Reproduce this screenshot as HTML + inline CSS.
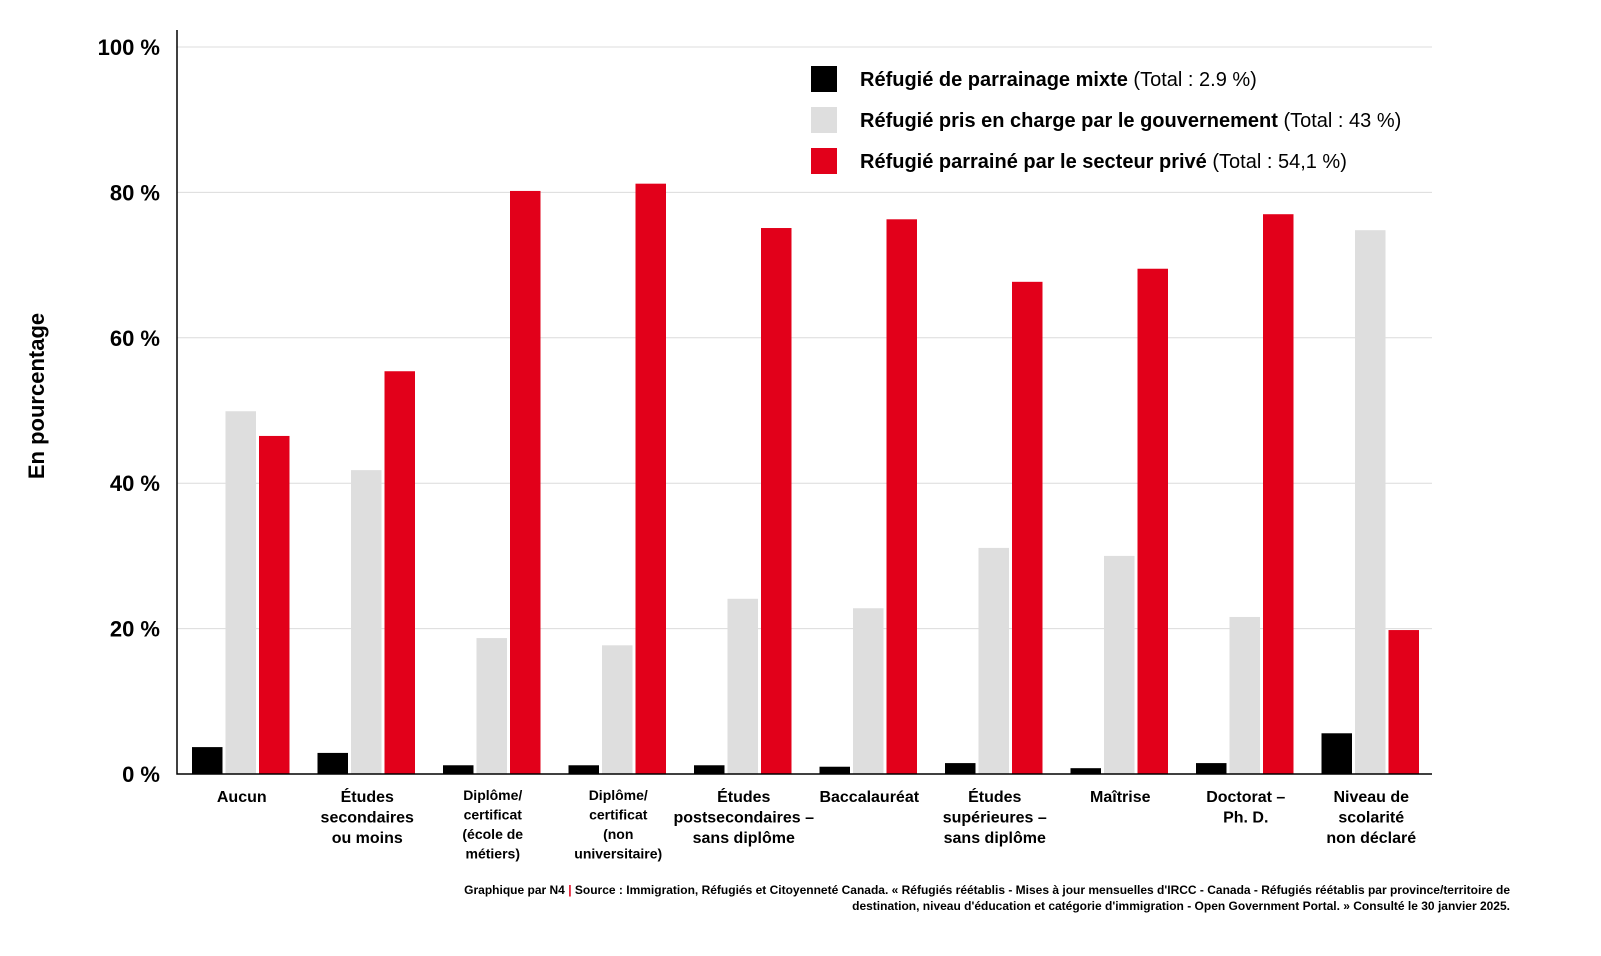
<!DOCTYPE html>
<html><head><meta charset="utf-8"><style>
body{margin:0;background:#fff;font-family:"Liberation Sans",sans-serif}
svg text{font-family:"Liberation Sans",sans-serif}
</style></head><body>
<svg id="c" width="1601" height="951" viewBox="0 0 1601 951" xmlns="http://www.w3.org/2000/svg"></svg>
<script>
const categories=[["Aucun"],["Études","secondaires","ou moins"],["Diplôme/","certificat","(école de","métiers)"],["Diplôme/","certificat","(non","universitaire)"],["Études","postsecondaires –","sans diplôme"],["Baccalauréat"],["Études","supérieures –","sans diplôme"],["Maîtrise"],["Doctorat –","Ph. D."],["Niveau de","scolarité","non déclaré"]];
const mixte=[3.7,2.9,1.2,1.2,1.2,1.0,1.5,0.8,1.5,5.6];
const gouv=[49.9,41.8,18.7,17.7,24.1,22.8,31.1,30.0,21.6,74.8];
const prive=[46.5,55.4,80.2,81.2,75.1,76.3,67.7,69.5,77.0,19.8];
const yTicks=[0,20,40,60,80,100];
const yTickLabels=["0 %","20 %","40 %","60 %","80 %","100 %"];
const legendLabels=[["Réfugié de parrainage mixte"," (Total : 2.9 %)"],["Réfugié pris en charge par le gouvernement"," (Total : 43 %)"],["Réfugié parrainé par le secteur privé"," (Total : 54,1 %)"]];

const NS="http://www.w3.org/2000/svg";
const svg=document.getElementById('c');
const X0=177,X1=1432,Y0=774,Y100=47;
const y=v=>Y0-(Y0-Y100)*v/100;
const step=(X1-X0)/categories.length;
const x=i=>X0+i*step;
function el(t,a,p){const e=document.createElementNS(NS,t);for(const k in a)e.setAttribute(k,a[k]);(p||svg).appendChild(e);return e;}
const colors=["#000000","#dedede","#e2001a"];
const series=[mixte,gouv,prive];
const sNames=["mixte","gouv","prive"];
yTicks.forEach((t,i)=>{
  if(t>0){const g=el('line',{x1:X0,x2:X1,y1:y(t),y2:y(t),stroke:'#dcdcdc','stroke-width':1});
  
  }
  const tx=el('text',{x:160,y:y(t)+8,'text-anchor':'end','font-size':22,'font-weight':'bold',fill:'#000'});
  tx.textContent=yTickLabels[i];
  
  
});
categories.forEach((c,i)=>{
  series.forEach((s,j)=>{
    const bx=x(i)+15+j*33.5;
    const r=el('rect',{x:bx,y:y(s[i]),width:30.5,height:Y0-y(s[i]),fill:colors[j]});
    
    
  });
  const cx=x(i)+step/2+2;
  const small=c.length>=4;
  const t=el('text',{x:cx,y:small?800:802,'text-anchor':'middle','font-size':small?14:16,'font-weight':'bold',fill:'#000'});
  
  
  c.forEach((l,k)=>{const ts=el('tspan',{x:cx,dy:k?(small?19.5:20.5):0},t);ts.textContent=l;});
});
const ax=el('path',{d:`M${X0} 30 V${Y0} H${X1}`,fill:'none',stroke:'#000','stroke-width':1.5});


const yt=el('text',{transform:'translate(44,396) rotate(-90)','text-anchor':'middle','font-size':22,'font-weight':'bold'});
yt.textContent="En pourcentage";


legendLabels.forEach((l,i)=>{
  const ly=79+i*41;
  const r=el('rect',{x:811,y:ly-13,width:26,height:26,fill:colors[i]});
  
  
  const t=el('text',{x:860,y:ly+7,'font-size':20});
  
  
  const a=el('tspan',{'font-weight':'bold'},t);a.textContent=l[0];
  const b=el('tspan',{},t);b.textContent=l[1];
});
const f1=el('text',{x:1510,y:894,'text-anchor':'end','font-size':12,'font-weight':'bold'});


const a1=el('tspan',{},f1);a1.textContent="Graphique par N4 ";
const a2=el('tspan',{fill:'#e2001a'},f1);a2.textContent="|";
const a3=el('tspan',{},f1);a3.textContent=" Source : Immigration, Réfugiés et Citoyenneté Canada. « Réfugiés réétablis - Mises à jour mensuelles d'IRCC - Canada - Réfugiés réétablis par province/territoire de";
const f2=el('text',{x:1510,y:910,'text-anchor':'end','font-size':12,'font-weight':'bold'});
f2.textContent="destination, niveau d'éducation et catégorie d'immigration - Open Government Portal. » Consulté le 30 janvier 2025.";


</script>
</body></html>
